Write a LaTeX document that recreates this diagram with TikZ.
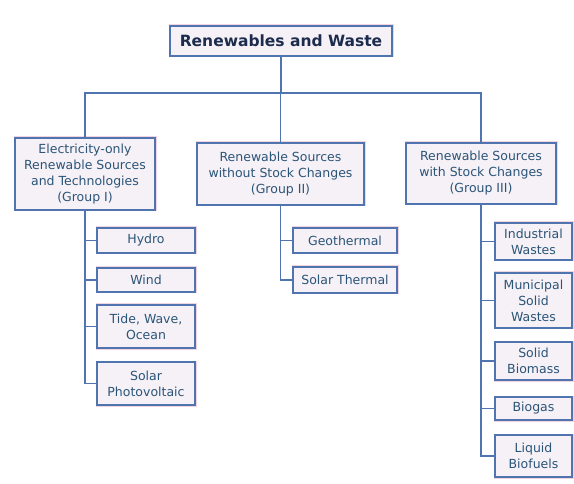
\documentclass[tikz,border=0pt]{standalone}
\usepackage{fontspec}
\setmainfont{DejaVu Sans}
\definecolor{edge}{HTML}{4F74B0}
\definecolor{boxfill}{HTML}{F6F0F7}
\definecolor{inner}{HTML}{F2D4DE}
\definecolor{txt}{HTML}{2A5577}
\definecolor{ttl}{HTML}{1C2C4C}
\tikzset{
  box/.style={draw=edge, line width=1.2pt, fill=boxfill, align=center, inner sep=1pt,
    font=\fontsize{12.5}{16}\selectfont, text=txt,
    preaction={draw=inner, line width=3pt}},
  link/.style={draw=edge, line width=1.5pt},
}
\begin{document}
\begin{tikzpicture}[x=1pt,y=1pt]
\useasboundingbox (0,0) rectangle (574,483);
\fill[white] (0,0) rectangle (574,483);
% title
\node[box, minimum width=222, minimum height=30, font=\fontsize{15.5}{17}\selectfont\bfseries, text=ttl] (title) at (281,442) {Renewables and Waste};
% groups
\node[box, minimum width=140, minimum height=72] (g1) at (85,309) {Electricity-only\\Renewable Sources\\and Technologies\\(Group I)};
\node[box, minimum width=167, minimum height=62] (g2) at (280.5,309) {Renewable Sources\\without Stock Changes\\(Group II)};
\node[box, minimum width=150, minimum height=61] (g3) at (481,309.5) {Renewable Sources\\with Stock Changes\\(Group III)};
% group I children
\node[box, minimum width=98, minimum height=25] (hydro) at (146,242.5) {Hydro};
\node[box, minimum width=98, minimum height=24] (wind) at (146,203) {Wind};
\node[box, minimum width=98, minimum height=43] (tide) at (146,156.5) {Tide, Wave,\\Ocean};
\node[box, minimum width=98, minimum height=43] (pv) at (146,99.5) {Solar\\Photovoltaic};
% group II children
\node[box, minimum width=104, minimum height=25] (geo) at (345,242.5) {Geothermal};
\node[box, minimum width=104, minimum height=26] (st) at (345,203) {Solar Thermal};
% group III children
\node[box, minimum width=77, minimum height=37] (ind) at (533.5,241.5) {Industrial\\Wastes};
\node[box, minimum width=77, minimum height=55] (msw) at (533.5,182.5) {Municipal\\Solid\\Wastes};
\node[box, minimum width=77, minimum height=38] (sb) at (533.5,122) {Solid\\Biomass};
\node[box, minimum width=77, minimum height=23] (bg) at (533.5,74.5) {Biogas};
\node[box, minimum width=77, minimum height=42] (lb) at (533.5,27) {Liquid\\Biofuels};
% bus
\coordinate (bus) at (0,390);
\draw[link] (title.south) -- (title.south |- bus);
\draw[link] (g1.north) -- (g1.north |- bus) -- (g3.north |- bus) -- (g3.north);
\draw[link] (g2.north) -- (g2.north |- bus);
% spines
\draw[link] (g1.south) |- (pv.west);
\draw[link] (g1.south |- hydro.west) -- (hydro.west);
\draw[link] (g1.south |- wind.west) -- (wind.west);
\draw[link] (g1.south |- tide.west) -- (tide.west);
\draw[link] (g2.south) |- (st.west);
\draw[link] (g2.south |- geo.west) -- (geo.west);
\draw[link] (g3.south) |- (lb.west);
\draw[link] (g3.south |- ind.west) -- (ind.west);
\draw[link] (g3.south |- msw.west) -- (msw.west);
\draw[link] (g3.south |- sb.west) -- (sb.west);
\draw[link] (g3.south |- bg.west) -- (bg.west);
\end{tikzpicture}
\end{document}
